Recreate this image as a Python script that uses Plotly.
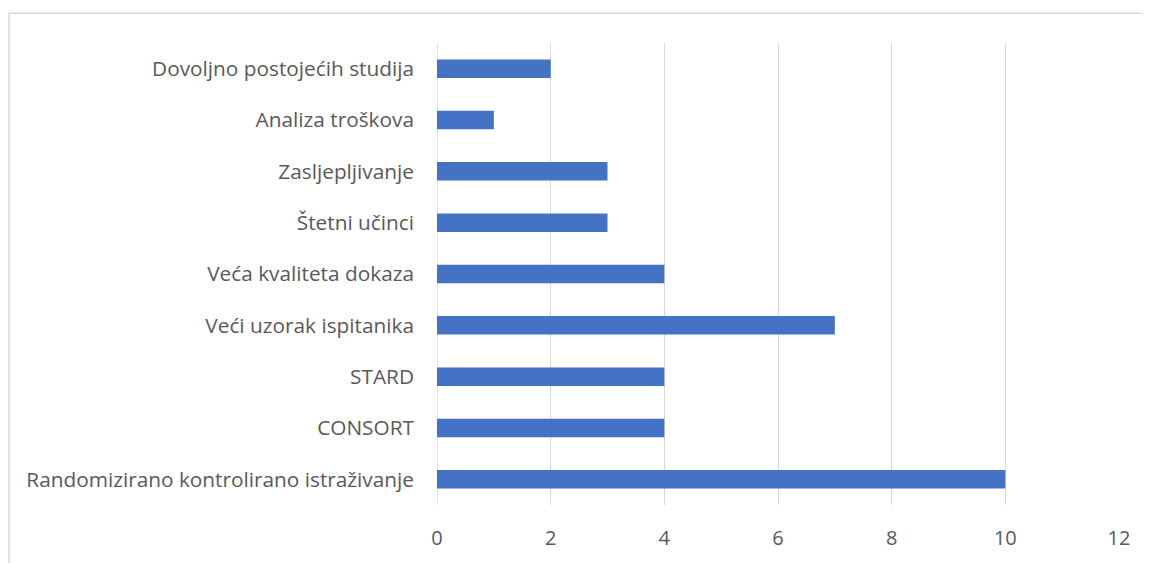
import plotly.graph_objects as go

categories = [
    "Randomizirano kontrolirano istraživanje",
    "CONSORT",
    "STARD",
    "Veći uzorak ispitanika",
    "Veća kvaliteta dokaza",
    "Štetni učinci",
    "Zasljepljivanje",
    "Analiza troškova",
    "Dovoljno postojećih studija",
]
values = [10, 4, 4, 7, 4, 3, 3, 1, 2]
x_ticks = [0, 2, 4, 6, 8, 10, 12]

OFF = 8  # default page body margin
W, H = 1151 - OFF, 563 - OFF
L, T = 437 - OFF, 43 - OFF
pw, ph = 682, 465
R = W - L - pw
B = H - T - ph

fig = go.Figure(go.Bar(
    y=categories, x=values, orientation="h",
    marker=dict(color="#4472c4", line=dict(width=0)),
))

def px_to_paper_x(px):
    return (px - OFF - L) / pw

def px_to_paper_y(py):
    return (T + ph - (py - OFF)) / ph

fig.add_shape(type="rect", xref="paper", yref="paper",
              x0=px_to_paper_x(9), x1=px_to_paper_x(1170),
              y0=px_to_paper_y(580), y1=px_to_paper_y(13),
              line=dict(color="#d9d9d9", width=1.5), fillcolor="rgba(0,0,0,0)",
              layer="below")

fig.update_layout(
    width=W, height=H,
    margin=dict(l=L, r=R, t=T, b=B),
    paper_bgcolor="white", plot_bgcolor="white",
    bargap=0.64,
    showlegend=False,
    font=dict(family="Open Sans, sans-serif", size=20, color="#595959"),
    xaxis=dict(range=[0, 12], tickvals=x_ticks, showgrid=True, gridcolor="#d9d9d9",
               gridwidth=1.3, zeroline=False, showline=False, ticks="",
               ticklabelstandoff=19, tickfont=dict(size=20, color="#595959")),
    yaxis=dict(showgrid=False, zeroline=False, showline=False, ticks="",
               ticklabelstandoff=22, tickfont=dict(size=20.8, color="#595959")),
)
fig.add_vline(x=0, line=dict(color="#d9d9d9", width=1.3), layer="below")

fig.write_html("out.html")
